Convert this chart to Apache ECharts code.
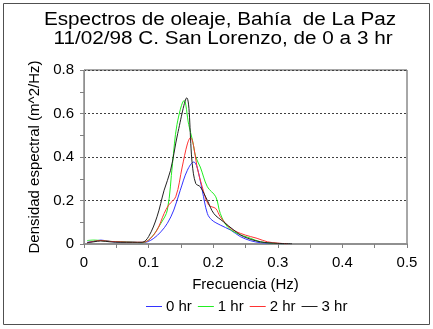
<!DOCTYPE html>
<html><head><meta charset="utf-8">
<script src="https://cdn.jsdelivr.net/npm/echarts@6/dist/echarts.min.js"></script>
<style>html,body{margin:0;padding:0;background:#fff}#c{width:433px;height:329px}</style>
</head><body><div id="c"></div>
<script>
const titleLines = ["Espectros de oleaje, Bahía  de La Paz", "11/02/98 C. San Lorenzo, de 0 a 3 hr"];
const seriesNames = ["0 hr", "1 hr", "2 hr", "3 hr"];
const seriesColors = ["#3333ff", "#22ee22", "#ff3333", "#222222"];
const freq0 = [0.005,0.015,0.026,0.04,0.057,0.075,0.088,0.098,0.108,0.119,0.129,0.139,0.149,0.16,0.170,0.175,0.183,0.191,0.198,0.211,0.227,0.242,0.258,0.273,0.29,0.31];
const val0  = [0.008,0.012,0.018,0.012,0.008,0.008,0.006,0.01,0.026,0.056,0.095,0.156,0.247,0.339,0.377,0.354,0.247,0.14,0.11,0.087,0.064,0.034,0.015,0.006,0.003,0.001];
const freq1 = [0.005,0.015,0.026,0.04,0.057,0.075,0.09,0.103,0.119,0.129,0.137,0.144,0.155,0.162,0.168,0.173,0.180,0.191,0.204,0.211,0.222,0.237,0.258,0.273,0.29,0.31];
const val1  = [0.016,0.018,0.016,0.012,0.01,0.008,0.006,0.026,0.095,0.156,0.37,0.55,0.66,0.55,0.476,0.40,0.354,0.263,0.217,0.14,0.079,0.049,0.026,0.01,0.004,0.001];
const freq2 = [0.005,0.015,0.026,0.04,0.057,0.075,0.09,0.1,0.113,0.124,0.131,0.142,0.152,0.16,0.165,0.17,0.175,0.183,0.193,0.204,0.211,0.227,0.242,0.258,0.268,0.284,0.3,0.315];
const val2  = [0.006,0.012,0.016,0.012,0.01,0.008,0.008,0.018,0.064,0.14,0.179,0.217,0.354,0.46,0.49,0.446,0.354,0.263,0.179,0.163,0.125,0.072,0.049,0.034,0.026,0.01,0.004,0.001];
const freq3 = [0.005,0.015,0.026,0.04,0.057,0.075,0.09,0.1,0.113,0.124,0.134,0.145,0.159,0.1675,0.173,0.180,0.191,0.201,0.216,0.232,0.247,0.273,0.3,0.322];
const val3  = [0.006,0.01,0.014,0.01,0.008,0.008,0.008,0.034,0.125,0.247,0.339,0.507,0.672,0.37,0.278,0.263,0.2,0.14,0.102,0.064,0.034,0.01,0.003,0.001];
const xTicks = [0, 0.1, 0.2, 0.3, 0.4, 0.5];
const yTicks = [0, 0.2, 0.4, 0.6, 0.8];

const freqs = [freq0, freq1, freq2, freq3];
const vals = [val0, val1, val2, val3];
const font = "Liberation Sans, Arial, sans-serif";
const chart = echarts.init(document.getElementById('c'), null, {renderer: 'canvas'});
chart.setOption({
  animation: false,
  backgroundColor: '#fff',
  grid: {left: 84, right: 26, top: 70, bottom: 85, show: true, borderColor: '#505050', borderWidth: 1},
  legend: {
    bottom: 10, left: 141, itemGap: 6, itemWidth: 16, itemHeight: 1,
    textStyle: {fontFamily: font, fontSize: 15, color: '#000', padding: [0,0,0,-1]},
    data: seriesNames.map((n, i) => ({name: n, icon: 'rect', itemStyle: {color: seriesColors[i]}}))
  },
  xAxis: {
    type: 'value', min: 0, max: 0.5, interval: 0.1,
    name: 'Frecuencia (Hz)', nameLocation: 'middle', nameGap: 33,
    nameTextStyle: {fontFamily: font, fontSize: 15, color: '#000'},
    axisLine: {show: true, lineStyle: {color: '#909090', width: 2}},
    axisTick: {show: true, length: 4, lineStyle: {color: '#808080'}},
    minorTick: {show: true, splitNumber: 2, length: 4, lineStyle: {color: '#808080'}},
    axisLabel: {fontFamily: font, fontSize: 15, color: '#000', margin: 11,
      formatter: v => { const t = xTicks.find(x => Math.abs(x - v) < 1e-9); return t === undefined ? '' : String(t); }},
    splitLine: {show: false}
  },
  yAxis: {
    type: 'value', min: 0, max: 0.8, interval: 0.2,
    name: 'Densidad espectral (m^2/Hz)', nameLocation: 'middle', nameGap: 38,
    nameTextStyle: {fontFamily: font, fontSize: 15, color: '#000'},
    axisLine: {show: true, lineStyle: {color: '#909090', width: 1}},
    axisTick: {show: true, length: 4, lineStyle: {color: '#808080'}},
    minorTick: {show: true, splitNumber: 2, length: 4, lineStyle: {color: '#808080'}},
    axisLabel: {fontFamily: font, fontSize: 15, color: '#000', margin: 10,
      formatter: v => { const t = yTicks.find(x => Math.abs(x - v) < 1e-9); return t === undefined ? '' : String(t); }},
    splitLine: {show: true, lineStyle: {color: '#404040', type: [2, 2], width: 1}}
  },
  graphic: [
    {type: 'rect', shape: {x: 3.5, y: 3.5, width: 426, height: 321}, style: {fill: null, stroke: '#505050', lineWidth: 1}, silent: true},
    {type: 'text', x: 220, y: 11, scaleX: 1.15, style: {text: titleLines[0], font: '18px ' + font, fill: '#000', textAlign: 'center', textVerticalAlign: 'top'}},
    {type: 'text', x: 223, y: 30, scaleX: 1.15, style: {text: titleLines[1], font: '18px ' + font, fill: '#000', textAlign: 'center', textVerticalAlign: 'top'}}
  ],
  series: seriesNames.map((n, i) => ({
    name: n, type: 'line', smooth: 0.35, symbol: 'none',
    data: freqs[i].map((f, j) => [f, vals[i][j]]),
    lineStyle: {width: 1, color: seriesColors[i]}, itemStyle: {color: seriesColors[i]},
    z: 2 + i
  }))
});
</script></body></html>
